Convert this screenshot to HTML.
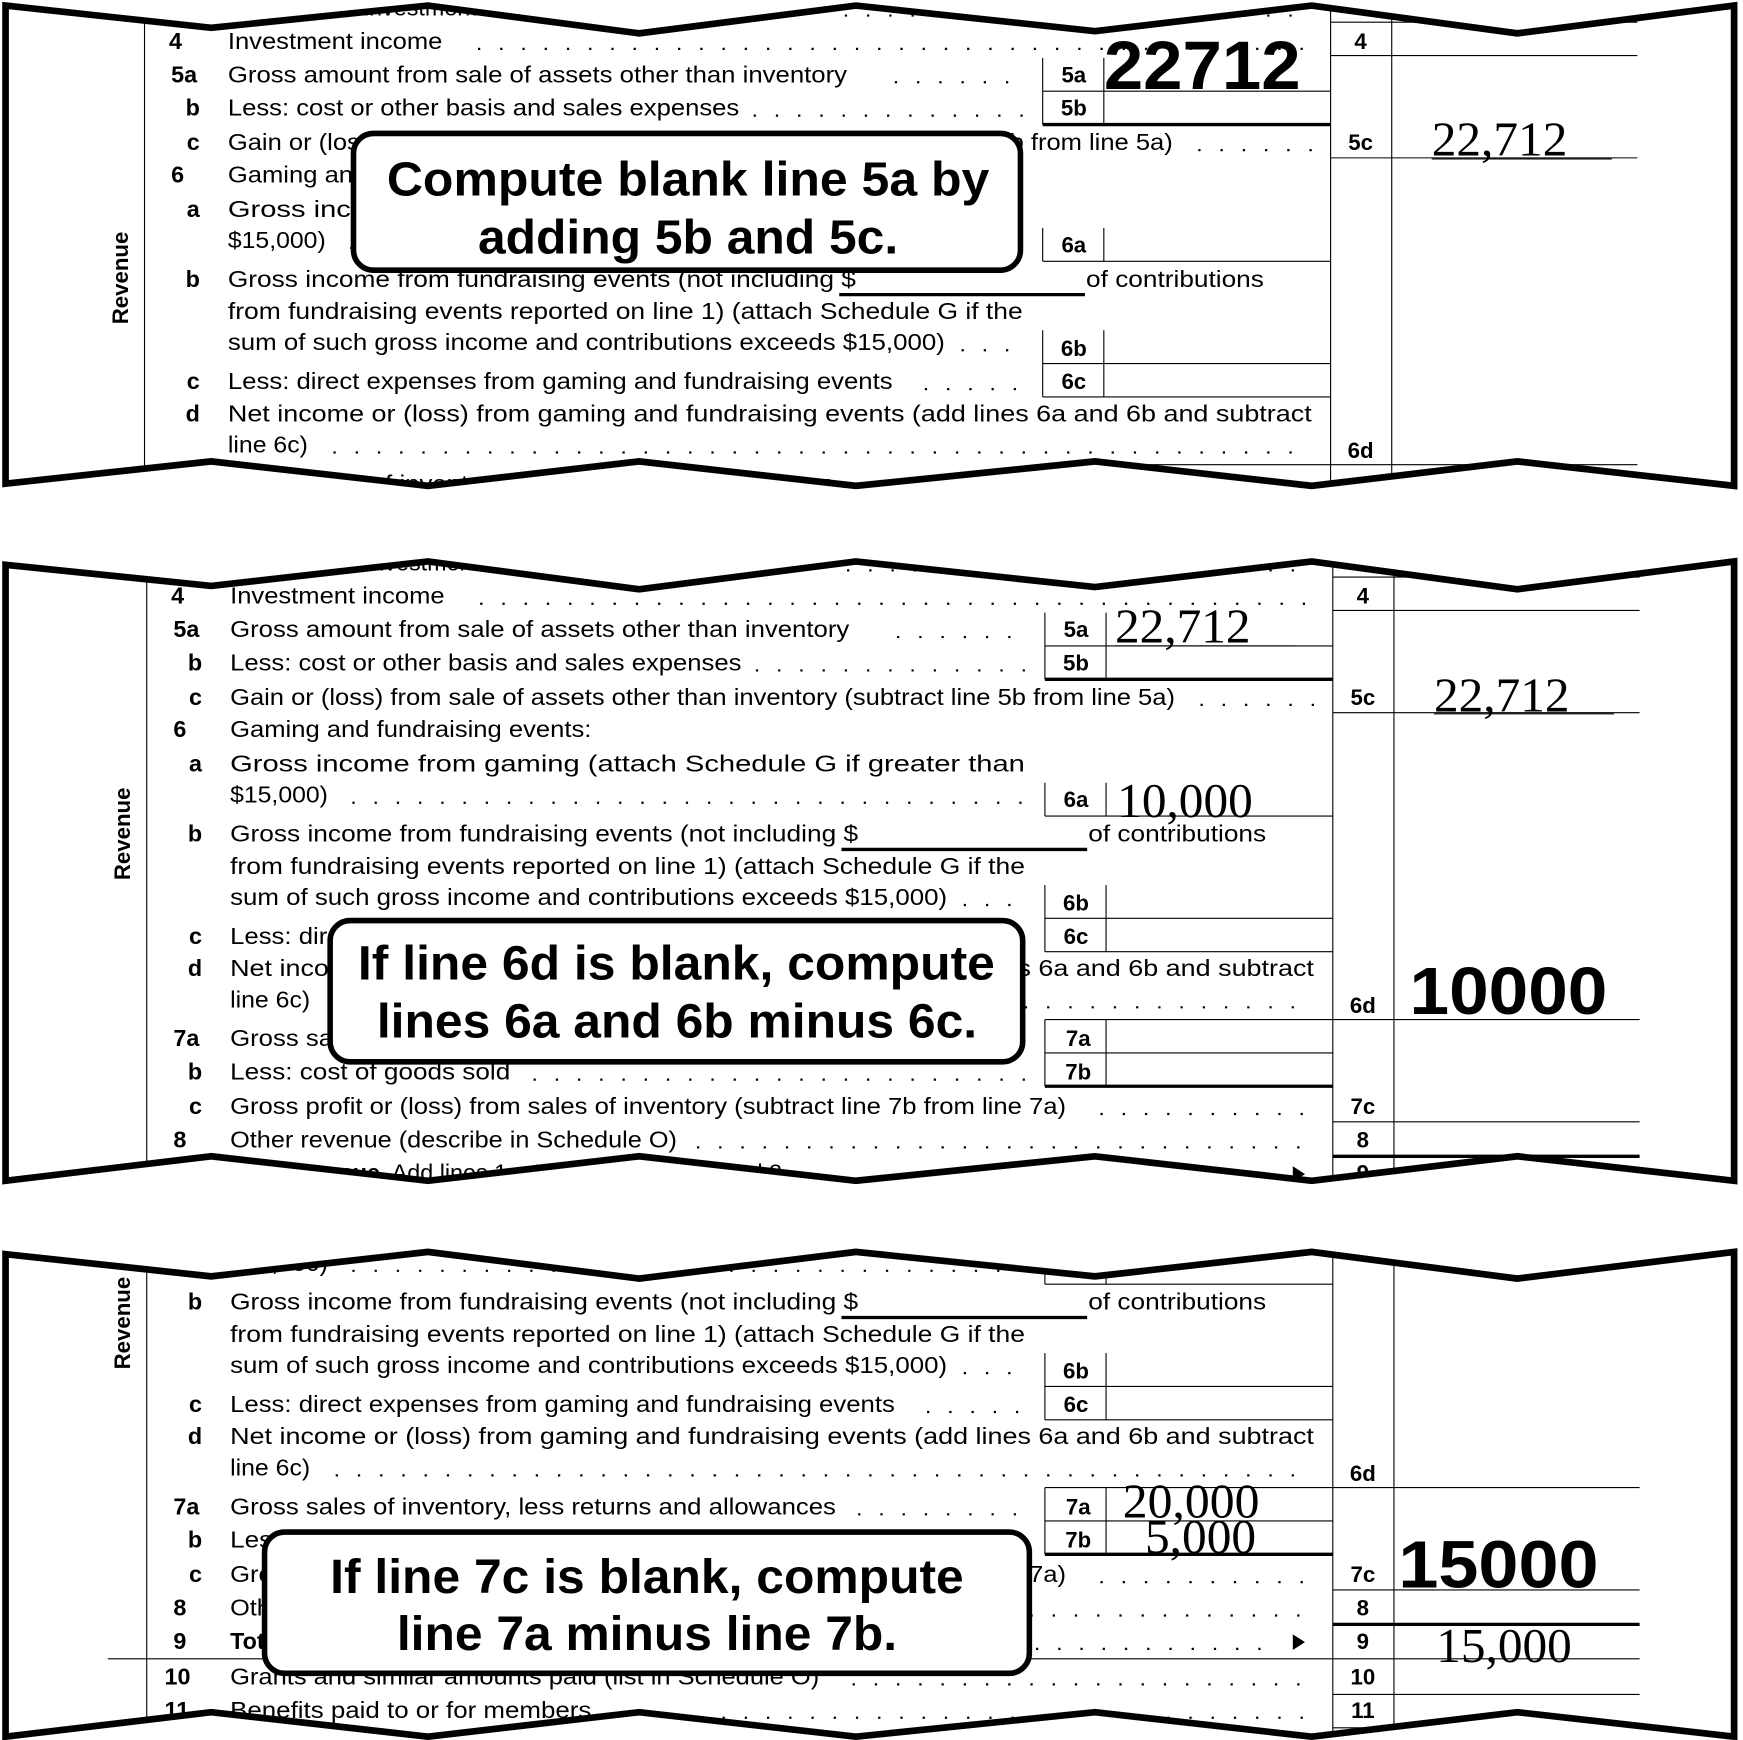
<!DOCTYPE html>
<html><head><meta charset="utf-8"><style>
html,body{margin:0;padding:0;background:#fff;}
svg{display:block;}
text{font-family:"Liberation Sans",Arial,sans-serif;fill:#000;}
.t{font-size:21px;}
.n{font-size:21px;font-weight:bold;}
.lb{font-size:20px;font-weight:bold;}
.dot{stroke:#000;stroke-width:2;stroke-dasharray:2 18;}
.ln{stroke:#000;stroke-width:1;}
.hv{stroke:#000;stroke-width:3;}
.hw{font-family:"Liberation Serif",serif;font-size:44px;}
.big{font-family:"Liberation Sans",sans-serif;font-size:60px;font-weight:bold;}
.co{font-size:43px;font-weight:bold;}
</style></head><body>
<svg width="1743" height="1740" viewBox="0 0 1568 1565" preserveAspectRatio="none" xmlns="http://www.w3.org/2000/svg">
<defs>
<g id="form">
  <line class="ln" x1="130" y1="-30" x2="130" y2="660"/>
  <line class="ln" x1="1197" y1="-30" x2="1197" y2="660"/>
  <line class="ln" x1="1252" y1="-30" x2="1252" y2="660"/>
  <line class="ln" x1="1197" y1="20" x2="1473" y2="20"/>
  <line class="ln" x1="1197" y1="50" x2="1473" y2="50"/>
  <line class="ln" x1="1197" y1="142" x2="1473" y2="142"/>
  <line class="ln" x1="1197" y1="418" x2="1473" y2="418"/>
  <line class="ln" x1="1197" y1="510" x2="1473" y2="510"/>
  <line class="hv" x1="1197" y1="541" x2="1473" y2="541"/>
  <line class="ln" x1="1197" y1="572" x2="1473" y2="572"/>
  <line class="ln" x1="95" y1="572" x2="1197" y2="572"/>
  <line class="ln" x1="1197" y1="604" x2="1473" y2="604"/>
  <line class="ln" x1="1197" y1="634" x2="1473" y2="634"/>
  <line class="ln" x1="938" y1="52" x2="938" y2="112"/><line class="ln" x1="993" y1="52" x2="993" y2="112"/>
  <line class="ln" x1="938" y1="82" x2="1197" y2="82"/>
  <line class="hv" x1="938" y1="112" x2="1197" y2="112"/>
  <line class="ln" x1="938" y1="205" x2="938" y2="235"/><line class="ln" x1="993" y1="205" x2="993" y2="235"/>
  <line class="ln" x1="938" y1="235" x2="1197" y2="235"/>
  <line class="ln" x1="938" y1="297" x2="938" y2="357"/><line class="ln" x1="993" y1="297" x2="993" y2="357"/>
  <line class="ln" x1="938" y1="327" x2="1197" y2="327"/>
  <line class="ln" x1="938" y1="357" x2="1197" y2="357"/>
  <line class="ln" x1="938" y1="418" x2="1197" y2="418"/>
  <line class="ln" x1="938" y1="418" x2="938" y2="478"/><line class="ln" x1="993" y1="418" x2="993" y2="478"/>
  <line class="ln" x1="938" y1="448" x2="1197" y2="448"/>
  <line class="hv" x1="938" y1="478" x2="1197" y2="478"/>
  <line class="hv" x1="755" y1="265" x2="976" y2="265"/>
  <text class="t" x="205" y="14">Income from investment of tax-exempt bond proceeds</text>
  <line class="dot" x1="760" y1="14" x2="1180" y2="14"/>
  <text class="n" x="152" y="44">4</text>
  <text class="t" x="205" y="44" textLength="193" lengthAdjust="spacingAndGlyphs">Investment income</text>
  <line class="dot" x1="430" y1="44" x2="1180" y2="44"/>
  <text class="lb" x="1224" y="44" text-anchor="middle">4</text>
  <text class="n" x="154" y="74">5a</text>
  <text class="t" x="205" y="74" textLength="557" lengthAdjust="spacingAndGlyphs">Gross amount from sale of assets other than inventory</text>
  <line class="dot" x1="805" y1="74" x2="925" y2="74"/>
  <text class="lb" x="966" y="74" text-anchor="middle">5a</text>
  <text class="n" x="167" y="104">b</text>
  <text class="t" x="205" y="104" textLength="460" lengthAdjust="spacingAndGlyphs">Less: cost or other basis and sales expenses</text>
  <line class="dot" x1="678" y1="104" x2="925" y2="104"/>
  <text class="lb" x="966" y="104" text-anchor="middle">5b</text>
  <text class="n" x="168" y="135">c</text>
  <text class="t" x="205" y="135" textLength="850" lengthAdjust="spacingAndGlyphs">Gain or (loss) from sale of assets other than inventory (subtract line 5b from line 5a)</text>
  <line class="dot" x1="1078" y1="135" x2="1180" y2="135"/>
  <text class="lb" x="1224" y="135" text-anchor="middle">5c</text>
  <text class="n" x="154" y="164">6</text>
  <text class="t" x="205" y="164" textLength="325" lengthAdjust="spacingAndGlyphs">Gaming and fundraising events:</text>
  <text class="n" x="168" y="195">a</text>
  <text class="t" x="205" y="195" textLength="715" lengthAdjust="spacingAndGlyphs">Gross  income  from  gaming  (attach  Schedule  G  if  greater  than</text>
  <text class="t" x="205" y="223" textLength="88" lengthAdjust="spacingAndGlyphs">$15,000)</text>
  <line class="dot" x1="315" y1="223" x2="925" y2="223"/>
  <text class="lb" x="966" y="227" text-anchor="middle">6a</text>
  <text class="n" x="167" y="258">b</text>
  <text class="t" x="205" y="258" textLength="565" lengthAdjust="spacingAndGlyphs">Gross income from fundraising events (not including  $</text>
  <text class="t" x="977" y="258" textLength="160" lengthAdjust="spacingAndGlyphs">of contributions</text>
  <text class="t" x="205" y="287" textLength="715" lengthAdjust="spacingAndGlyphs">from fundraising events reported on line 1) (attach Schedule G if the</text>
  <text class="t" x="205" y="315" textLength="645" lengthAdjust="spacingAndGlyphs">sum of such gross income and contributions exceeds $15,000)</text>
  <line class="dot" x1="865" y1="315" x2="925" y2="315"/>
  <text class="lb" x="966" y="320" text-anchor="middle">6b</text>
  <text class="n" x="168" y="350">c</text>
  <text class="t" x="205" y="350" textLength="598" lengthAdjust="spacingAndGlyphs">Less: direct expenses from gaming and fundraising events</text>
  <line class="dot" x1="832" y1="350" x2="925" y2="350"/>
  <text class="lb" x="966" y="350" text-anchor="middle">6c</text>
  <text class="n" x="167" y="379">d</text>
  <text class="t" x="205" y="379" textLength="975" lengthAdjust="spacingAndGlyphs">Net  income  or  (loss)  from  gaming  and  fundraising  events  (add  lines  6a  and  6b  and  subtract</text>
  <text class="t" x="205" y="407" textLength="72" lengthAdjust="spacingAndGlyphs">line 6c)</text>
  <line class="dot" x1="300" y1="407" x2="1180" y2="407"/>
  <text class="lb" x="1224" y="412" text-anchor="middle">6d</text>
  <text class="n" x="154" y="442">7a</text>
  <text class="t" x="205" y="442" textLength="545" lengthAdjust="spacingAndGlyphs">Gross sales of inventory, less returns and allowances</text>
  <line class="dot" x1="770" y1="442" x2="925" y2="442"/>
  <text class="lb" x="968" y="442" text-anchor="middle">7a</text>
  <text class="n" x="167" y="472">b</text>
  <text class="t" x="205" y="472" textLength="252" lengthAdjust="spacingAndGlyphs">Less: cost of goods sold</text>
  <line class="dot" x1="478" y1="472" x2="925" y2="472"/>
  <text class="lb" x="968" y="472" text-anchor="middle">7b</text>
  <text class="n" x="168" y="503">c</text>
  <text class="t" x="205" y="503" textLength="752" lengthAdjust="spacingAndGlyphs">Gross profit or (loss) from sales of inventory (subtract line 7b from line 7a)</text>
  <line class="dot" x1="988" y1="503" x2="1180" y2="503"/>
  <text class="lb" x="1224" y="503" text-anchor="middle">7c</text>
  <text class="n" x="154" y="533">8</text>
  <text class="t" x="205" y="533" textLength="402" lengthAdjust="spacingAndGlyphs">Other revenue (describe in Schedule O)</text>
  <line class="dot" x1="625" y1="533" x2="1180" y2="533"/>
  <text class="lb" x="1224" y="533" text-anchor="middle">8</text>
  <text class="n" x="154" y="563">9</text>
  <text class="t" x="205" y="563"><tspan font-weight="bold">Total revenue.</tspan> Add lines 1c, 2, 3, 4, 5c, 6d, 7c, and 8</text>
  <line class="dot" x1="770" y1="563" x2="1150" y2="563"/>
  <polygon points="1161,550 1172,557 1161,564"/>
  <text class="lb" x="1224" y="563" text-anchor="middle">9</text>
  <text class="n" x="146" y="595">10</text>
  <text class="t" x="205" y="595" textLength="530" lengthAdjust="spacingAndGlyphs">Grants and similar amounts paid (list in Schedule O)</text>
  <line class="dot" x1="765" y1="595" x2="1180" y2="595"/>
  <text class="lb" x="1224" y="595" text-anchor="middle">10</text>
  <text class="n" x="146" y="625">11</text>
  <text class="t" x="205" y="625" textLength="325" lengthAdjust="spacingAndGlyphs">Benefits paid to or for members</text>
  <line class="dot" x1="548" y1="625" x2="1180" y2="625"/>
  <text class="lb" x="1224" y="625" text-anchor="middle">11</text>
</g>
<clipPath id="c1"><polygon points="5,5 190,25 385,5 575,30 770,5 985,28 1180,5 1365,30 1560,5 1560,437 1365,415 1180,437 985,415 770,437 575,415 385,437 190,415 5,435"/></clipPath>
<clipPath id="c2"><polygon points="5,508 190,527 385,505 575,530 770,505 985,528 1180,505 1365,530 1560,505 1560,1062 1365,1040 1180,1062 985,1040 770,1062 575,1040 385,1062 190,1040 5,1062"/></clipPath>
<clipPath id="c3"><polygon points="5,1128 190,1148 385,1126 575,1150 770,1126 985,1148 1180,1126 1365,1150 1560,1126 1560,1562 1365,1540 1180,1562 985,1540 770,1562 575,1540 385,1562 190,1540 5,1562"/></clipPath>
</defs>

<g clip-path="url(#c1)">
  <use href="#form"/>
  <text class="lb" transform="translate(115,250) rotate(-90)" text-anchor="middle">Revenue</text>
  <text x="993" y="80" font-family="'Liberation Sans',sans-serif" font-size="62" font-weight="bold" textLength="177" lengthAdjust="spacingAndGlyphs">22712</text>
  <text class="hw" x="1288" y="140" textLength="122" lengthAdjust="spacingAndGlyphs">22,712</text>
  <line class="ln" x1="1288" y1="143" x2="1450" y2="143"/>
</g>
<polygon points="5,5 190,25 385,5 575,30 770,5 985,28 1180,5 1365,30 1560,5 1560,437 1365,415 1180,437 985,415 770,437 575,415 385,437 190,415 5,435" fill="none" stroke="#000" stroke-width="6"/>
<rect x="318" y="120" width="600" height="123" rx="18" fill="#fff" stroke="#000" stroke-width="5"/>
<text class="co" x="348" y="176" textLength="542" lengthAdjust="spacingAndGlyphs">Compute blank line 5a by</text>
<text class="co" x="430" y="228" textLength="378" lengthAdjust="spacingAndGlyphs">adding 5b and 5c.</text>

<g clip-path="url(#c2)">
  <use href="#form" transform="translate(2,499)"/>
  <text class="lb" transform="translate(117,750) rotate(-90)" text-anchor="middle">Revenue</text>
  <text class="hw" x="1003" y="578" textLength="122" lengthAdjust="spacingAndGlyphs">22,712</text>
  <line class="ln" x1="1003" y1="581" x2="1165" y2="581"/>
  <text class="hw" x="1290" y="640" textLength="122" lengthAdjust="spacingAndGlyphs">22,712</text>
  <line class="ln" x1="1290" y1="642" x2="1452" y2="642"/>
  <text class="hw" x="1005" y="735" textLength="122" lengthAdjust="spacingAndGlyphs">10,000</text>
  <text class="big" x="1268" y="912" textLength="178" lengthAdjust="spacingAndGlyphs">10000</text>
</g>
<polygon points="5,508 190,527 385,505 575,530 770,505 985,528 1180,505 1365,530 1560,505 1560,1062 1365,1040 1180,1062 985,1040 770,1062 575,1040 385,1062 190,1040 5,1062" fill="none" stroke="#000" stroke-width="6"/>
<rect x="297" y="828" width="623" height="127" rx="18" fill="#fff" stroke="#000" stroke-width="5"/>
<text class="co" x="322" y="881" textLength="573" lengthAdjust="spacingAndGlyphs">If line 6d is blank, compute</text>
<text class="co" x="339" y="933" textLength="540" lengthAdjust="spacingAndGlyphs">lines 6a and 6b minus 6c.</text>

<g clip-path="url(#c3)">
  <use href="#form" transform="translate(2,920)"/>
  <text class="lb" transform="translate(117,1190) rotate(-90)" text-anchor="middle">Revenue</text>
  <text class="hw" x="1010" y="1365" textLength="123" lengthAdjust="spacingAndGlyphs">20,000</text>
  <text class="hw" x="1030" y="1397" textLength="100" lengthAdjust="spacingAndGlyphs">5,000</text>
  <text class="big" x="1258" y="1428" textLength="180" lengthAdjust="spacingAndGlyphs">15000</text>
  <text class="hw" x="1292" y="1495" textLength="122" lengthAdjust="spacingAndGlyphs">15,000</text>
</g>
<polygon points="5,1128 190,1148 385,1126 575,1150 770,1126 985,1148 1180,1126 1365,1150 1560,1126 1560,1562 1365,1540 1180,1562 985,1540 770,1562 575,1540 385,1562 190,1540 5,1562" fill="none" stroke="#000" stroke-width="6"/>
<rect x="238" y="1378" width="688" height="127" rx="18" fill="#fff" stroke="#000" stroke-width="5"/>
<text class="co" x="297" y="1433" textLength="570" lengthAdjust="spacingAndGlyphs">If line 7c is blank, compute</text>
<text class="co" x="357" y="1484" textLength="450" lengthAdjust="spacingAndGlyphs">line 7a minus line 7b.</text>
</svg>
</body></html>
